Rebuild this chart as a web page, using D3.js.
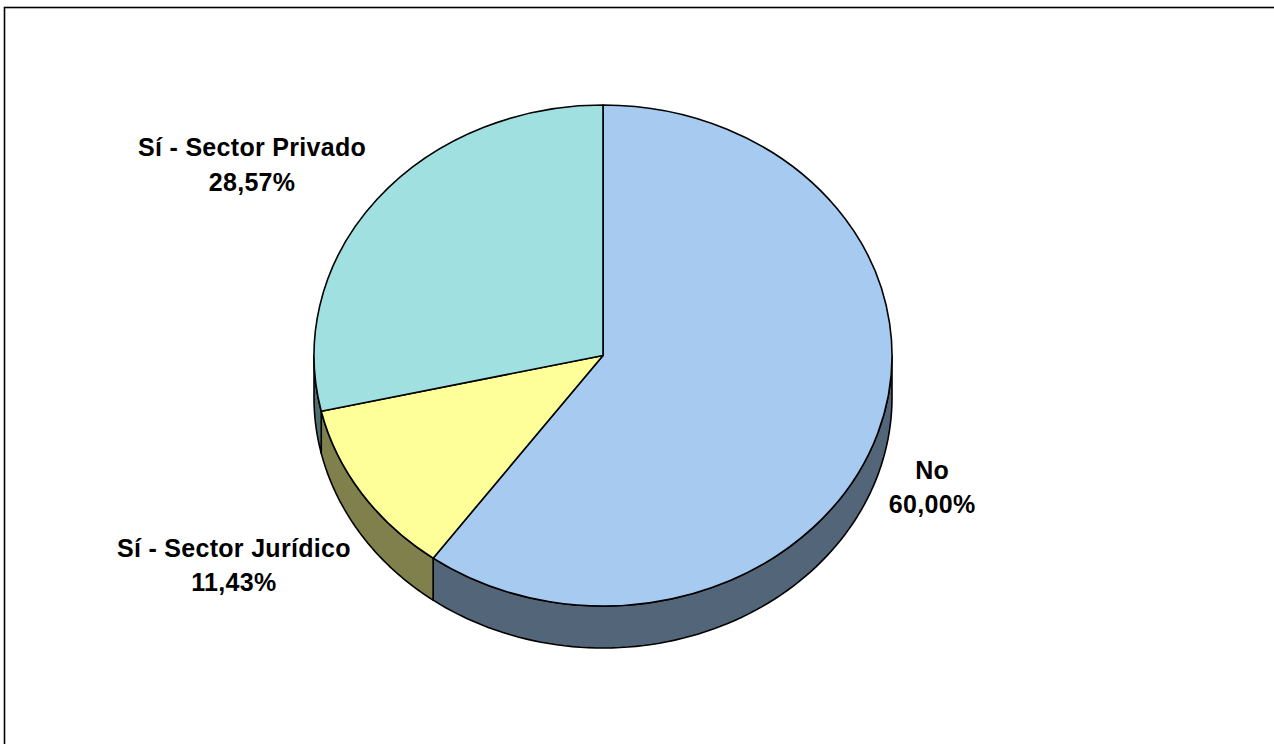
<!DOCTYPE html>
<html>
<head>
<meta charset="utf-8">
<script src="https://cdn.jsdelivr.net/npm/d3@7"></script>
<style>
  html, body { margin: 0; padding: 0; background: #fff; }
  svg { display: block; }
</style>
</head>
<body>
<script>
// ---- data ----
const categories = ["No", "Sí - Sector Jurídico", "Sí - Sector Privado"];
const values = [60.00, 11.43, 28.57];
const valueLabels = ["60,00%", "11,43%", "28,57%"];

// ---- styles / layout ----
const topColors = ["#A6CAF0", "#FFFF99", "#A0E0E0"];
const sideColors = ["#536579", "#80804C", "#507070"];
const W = 1274, H = 744;
const cx = 603, cy = 355.5, rx = 289, ry = 250.5, depth = 42;
const labelGap = 11;
const labelDy = [4, 21.5, -43]; // baseline of first line relative to anchor

const svg = d3.select("body").append("svg").attr("width", W).attr("height", H);

// frame
svg.append("rect").attr("x", 4.5).attr("y", 7.5).attr("width", W + 20).attr("height", H + 20)
  .attr("fill", "none").attr("stroke", "#000").attr("stroke-width", 1.6);

const arcs = d3.pie().sort(null).value(d => d)(values);

const pt = (a, dy = 0) => [cx + rx * Math.sin(a), cy - ry * Math.cos(a) + dy];

// sides (front half only: angles between PI/2 and 3PI/2)
const line = d3.line();
const gSide = svg.append("g");
arcs.forEach((d, i) => {
  const s = Math.max(d.startAngle, Math.PI / 2);
  const e = Math.min(d.endAngle, 3 * Math.PI / 2);
  if (s >= e) return;
  const n = 80;
  const t = d3.scaleLinear().domain([0, n]).range([s, e]);
  const topPts = d3.range(n + 1).map(k => pt(t(k)));
  const botPts = d3.range(n, -1, -1).map(k => pt(t(k), depth));
  gSide.append("path")
    .attr("d", line(topPts.concat(botPts)) + "Z")
    .attr("fill", sideColors[i])
    .attr("stroke", "#000").attr("stroke-width", 1.6).attr("stroke-linejoin", "round");
});

// top faces
const arcGen = d3.arc().innerRadius(0).outerRadius(rx);
const gTop = svg.append("g").attr("transform", `translate(${cx},${cy}) scale(1,${ry / rx})`);
gTop.selectAll("path").data(arcs).join("path")
  .attr("d", arcGen)
  .attr("fill", (d, i) => topColors[i])
  .attr("stroke", "#000").attr("stroke-width", 1.6)
  .attr("stroke-linejoin", "round")
  .attr("vector-effect", "non-scaling-stroke");

// labels
const gLab = svg.append("g")
  .attr("font-family", "'Liberation Sans', Arial, sans-serif")
  .attr("font-weight", "bold").attr("font-size", 25)
  .attr("letter-spacing", 0.3).attr("fill", "#000");
arcs.forEach((d, i) => {
  const mid = (d.startAngle + d.endAngle) / 2;
  const front = Math.cos(mid) < 0;
  const a = pt(mid, front ? depth : 0);
  const txt = gLab.append("text").attr("text-anchor", "middle");
  const t1 = txt.append("tspan").text(categories[i]);
  const t2 = txt.append("tspan").text(valueLabels[i]);
  const w = Math.max(t1.node().getComputedTextLength(), t2.node().getComputedTextLength());
  const right = Math.sin(mid) > 0;
  const x = right ? a[0] + labelGap + w / 2 : a[0] - labelGap - w / 2;
  const y = a[1] + labelDy[i];
  t1.attr("x", x).attr("y", y);
  t2.attr("x", x).attr("y", y + 34.5);
});
</script>
</body>
</html>
